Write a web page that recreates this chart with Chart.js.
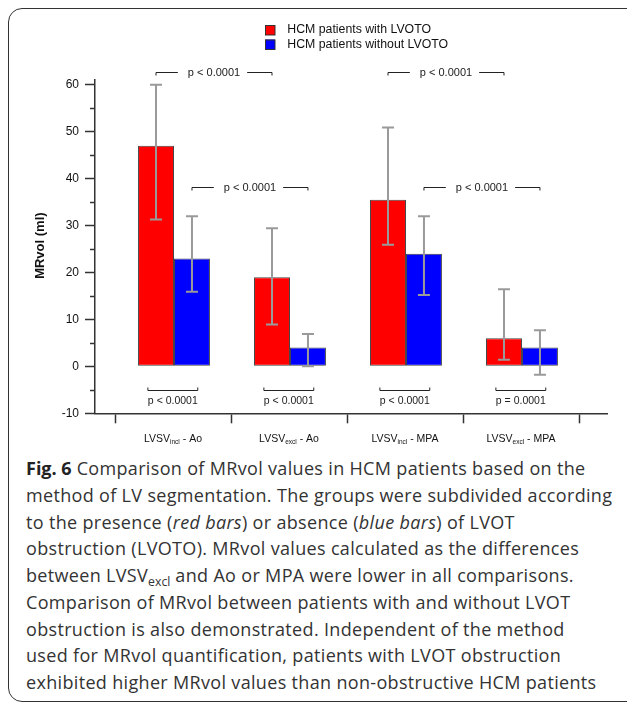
<!DOCTYPE html>
<html>
<head>
<meta charset="utf-8">
<script src="https://cdn.jsdelivr.net/npm/chart.js@4.4.1/dist/chart.umd.min.js"></script>
<style>
  html, body { margin: 0; padding: 0; background: #fff; overflow: hidden; width: 627px; height: 702px; }
  #frame { position: absolute; left: 8px; top: 8px; width: 660px; height: 692px; border: 1.5px solid #333; border-radius: 14px; }
  #c { position: absolute; left: 0; top: 0; }
  #cap { position: absolute; left: 26px; top: 455px; font-family: "Open Sans", "Noto Sans", sans-serif; font-size: 18px; letter-spacing: 0.33px; line-height: 26.75px; color: #333; white-space: nowrap; }
  #cap b { font-weight: 700; color: #222; letter-spacing: 0; }
  #cap sub { font-size: 0.68em; line-height: 0; vertical-align: -0.3em; letter-spacing: 0; }
</style>
</head>
<body>
<div id="frame"></div>
<canvas id="c" width="627" height="450"></canvas>
<div id="cap"><b>Fig. 6</b> Comparison of MRvol values in HCM patients based on the<br>method of LV segmentation. The groups were subdivided according<br>to the presence (<i>red bars</i>) or absence (<i>blue bars</i>) of LVOT<br>obstruction (LVOTO). MRvol values calculated as the differences<br>between LVSV<sub>excl</sub> and Ao or MPA were lower in all comparisons.<br>Comparison of MRvol between patients with and without LVOT<br>obstruction is also demonstrated. Independent of the method<br>used for MRvol quantification, patients with LVOT obstruction<br>exhibited higher MRvol values than non-obstructive HCM patients</div>
<script>
// ---- data ----
const categoryMain = ['LVSV', 'LVSV', 'LVSV', 'LVSV'];
const categorySub = ['incl', 'excl', 'incl', 'excl'];
const categorySuffix = [' - Ao', ' - Ao', ' - MPA', ' - MPA'];
const seriesNames = ['HCM patients with LVOTO', 'HCM patients without LVOTO'];
const withLvoto = [47, 19, 35.5, 6];
const withLvotoLow = [31.3, 8.9, 25.9, 1.4];
const withLvotoHigh = [60, 29.4, 50.9, 16.4];
const withoutLvoto = [23, 4, 24, 4];
const withoutLvotoLow = [15.9, 0, 15.2, -1.8];
const withoutLvotoHigh = [32, 6.9, 32, 7.7];
const yTickValues = [-10, 0, 10, 20, 30, 40, 50, 60];
const yMinorTickValues = [-5, 5, 15, 25, 35, 45, 55];
// comparisons between methods (same series), and between series (same method)
const methodCompSeries = [0, 1, 0, 1];
const methodCompFrom = [0, 0, 2, 2];
const methodCompTo = [1, 1, 3, 3];
const methodCompP = ['p < 0.0001', 'p < 0.0001', 'p < 0.0001', 'p < 0.0001'];
const groupCompP = ['p < 0.0001', 'p < 0.0001', 'p < 0.0001', 'p = 0.0001'];

// ---- layout constants (not data) ----
const methodCompLevel = [62.76, 38.26, 62.76, 38.26];
const groupCompLevel = -5.02;
const groupCompTextLevel = -7.5;
const colors = ['#ff0000', '#0000ff'];
const FONT = '"Liberation Sans", Arial, sans-serif';

const errLow = [withLvotoLow, withoutLvotoLow];
const errHigh = [withLvotoHigh, withoutLvotoHigh];

const annot = {
  id: 'annot',
  afterDatasetsDraw(chart) {
    const ctx = chart.ctx;
    const xs = chart.scales.x, ys = chart.scales.y;
    const left = chart.chartArea.left;
    ctx.save();
    // minor y ticks
    ctx.strokeStyle = '#333'; ctx.lineWidth = 1.5;
    yMinorTickValues.forEach(v => {
      const y = Math.round(ys.getPixelForValue(v)) + 0.5;
      ctx.beginPath(); ctx.moveTo(left - 5, y); ctx.lineTo(left, y); ctx.stroke();
    });
    // error bars
    ctx.strokeStyle = '#9a9a9a'; ctx.lineWidth = 2;
    [0, 1].forEach(di => {
      const meta = chart.getDatasetMeta(di);
      meta.data.forEach((bar, i) => {
        const x = bar.x;
        const yl = ys.getPixelForValue(errLow[di][i]);
        const yh = ys.getPixelForValue(errHigh[di][i]);
        ctx.beginPath();
        ctx.moveTo(x, yl); ctx.lineTo(x, yh);
        ctx.moveTo(x - 6, yl); ctx.lineTo(x + 6, yl);
        ctx.moveTo(x - 6, yh); ctx.lineTo(x + 6, yh);
        ctx.stroke();
      });
    });
    // method comparison brackets (top)
    ctx.strokeStyle = '#222'; ctx.lineWidth = 1; ctx.fillStyle = '#222';
    ctx.font = '11px ' + FONT; ctx.textAlign = 'center'; ctx.textBaseline = 'middle';
    methodCompSeries.forEach((s, k) => {
      const meta = chart.getDatasetMeta(s);
      const x1 = meta.data[methodCompFrom[k]].x, x2 = meta.data[methodCompTo[k]].x;
      const y = Math.round(ys.getPixelForValue(methodCompLevel[k])) + 0.5;
      const cx = (x1 + x2) / 2;
      const tw = ctx.measureText(methodCompP[k]).width;
      ctx.beginPath();
      ctx.moveTo(x1, y + 3); ctx.lineTo(x1, y); ctx.lineTo(cx - tw / 2 - 10, y);
      ctx.moveTo(cx + tw / 2 + 7, y); ctx.lineTo(x2, y); ctx.lineTo(x2, y + 3);
      ctx.stroke();
      ctx.fillText(methodCompP[k], cx, y + 0.5);
    });
    // group comparison brackets (bottom)
    ctx.font = '10.5px ' + FONT;
    groupCompP.forEach((p, i) => {
      const x1 = xs.getPixelForValue(i - 0.225), x2 = xs.getPixelForValue(i + 0.205);
      const y = Math.round(ys.getPixelForValue(groupCompLevel)) + 0.5;
      ctx.beginPath();
      ctx.moveTo(x1, y - 3); ctx.lineTo(x1, y); ctx.lineTo(x2, y); ctx.lineTo(x2, y - 3);
      ctx.stroke();
      ctx.fillText(p, (x1 + x2) / 2, ys.getPixelForValue(groupCompTextLevel));
    });
    // category labels with subscripts
    ctx.textAlign = 'left'; ctx.textBaseline = 'alphabetic'; ctx.fillStyle = '#111';
    categoryMain.forEach((m, i) => {
      const cx = xs.getPixelForValue(i);
      ctx.font = '10.5px ' + FONT; const w1 = ctx.measureText(m).width; const w3 = ctx.measureText(categorySuffix[i]).width;
      ctx.font = '6.5px ' + FONT; const w2 = ctx.measureText(categorySub[i]).width;
      let x = cx - (w1 + w2 + w3) / 2 - 1;
      const base = 441.7;
      ctx.font = '10.5px ' + FONT; ctx.fillText(m, x, base); x += w1;
      ctx.font = '6.5px ' + FONT; ctx.fillText(categorySub[i], x, base + 2); x += w2;
      ctx.font = '10.5px ' + FONT; ctx.fillText(categorySuffix[i], x, base);
    });
    // y axis title
    ctx.save();
    ctx.translate(40, (chart.chartArea.top + chart.chartArea.bottom) / 2 - 1);
    ctx.rotate(-Math.PI / 2);
    ctx.font = 'bold 13px ' + FONT; ctx.textAlign = 'center'; ctx.textBaseline = 'middle'; ctx.fillStyle = '#111';
    ctx.fillText('MRvol (ml)', 0, 0);
    ctx.restore();
    // legend
    ctx.font = '12.3px ' + FONT; ctx.textAlign = 'left'; ctx.textBaseline = 'middle';
    seriesNames.forEach((n, i) => {
      const y = 25 + i * 14.5;
      ctx.fillStyle = colors[i]; ctx.fillRect(265, y, 10, 10);
      ctx.strokeStyle = '#333'; ctx.lineWidth = 1; ctx.strokeRect(265.5, y + 0.5, 9.5, 9.5);
      ctx.fillStyle = '#111'; ctx.fillText(n, 287.3, y + 5);
    });
    ctx.restore();
  }
};

new Chart(document.getElementById('c'), {
  type: 'bar',
  data: {
    datasets: [
      { label: seriesNames[0], data: withLvoto.map((v, i) => ({ x: i, y: v })), backgroundColor: colors[0] },
      { label: seriesNames[1], data: withoutLvoto.map((v, i) => ({ x: i, y: v })), backgroundColor: colors[1] }
    ]
  },
  options: {
    responsive: false,
    animation: false,
    devicePixelRatio: 1,
    layout: { padding: { left: 0, top: 80, right: 20, bottom: 0 } },
    datasets: { bar: { categoryPercentage: 0.62, barPercentage: 1, borderColor: '#444', borderWidth: 1, borderSkipped: false } },
    plugins: { legend: { display: false }, tooltip: { enabled: false } },
    scales: {
      x: {
        type: 'linear', min: -0.681, max: 3.733, offset: false,
        afterBuildTicks: s => { s.ticks = categoryMain.map((_, i) => ({ value: i })); },
        afterFit: s => { s.height = 36.7; },
        ticks: { display: false },
        grid: { drawOnChartArea: false, tickLength: 10, tickColor: '#333', tickWidth: 1.5 },
        border: { color: '#333', width: 1.5 }
      },
      y: {
        min: -10, max: 61,
        afterBuildTicks: s => { s.ticks = yTickValues.map(v => ({ value: v })); },
        afterFit: s => { s.width = 95; },
        ticks: { padding: 6, color: '#111', font: { family: FONT, size: 12 } },
        grid: { drawOnChartArea: false, tickLength: 10, tickColor: '#333', tickWidth: 1.5 },
        border: { color: '#333', width: 1.5 }
      }
    }
  },
  plugins: [annot]
});
</script>
</body>
</html>
